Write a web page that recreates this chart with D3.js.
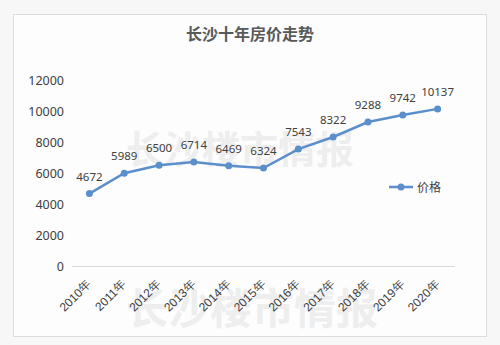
<!DOCTYPE html>
<html><head><meta charset="utf-8">
<script src="https://cdn.jsdelivr.net/npm/d3@7"></script>
<style>body{margin:0;background:#f7f7f7;}svg{display:block;font-family:"Noto Sans CJK SC","Noto Sans",sans-serif;}</style>
</head><body>
<script>
const title = "长沙十年房价走势";
const years = ["2010年","2011年","2012年","2013年","2014年","2015年","2016年","2017年","2018年","2019年","2020年"];
const prices = [4672,5989,6500,6714,6469,6324,7543,8322,9288,9742,10137];
const yTicks = [0,2000,4000,6000,8000,10000,12000];
const seriesName = "价格";
const watermark = "长沙楼市情报";

const W = 500, H = 345;
const svg = d3.select("body").append("svg").attr("width", W).attr("height", H);
svg.append("rect").attr("x",13.5).attr("y",14.5).attr("width",473).attr("height",322)
  .attr("fill","#fdfdfd").attr("stroke","#dcdcdc");

// faint watermarks (as in the reference image)
svg.append("text").attr("x",240).attr("y",163).attr("text-anchor","middle")
  .attr("font-size",38).attr("font-weight","bold").attr("fill","#eeeeee").text(watermark);
svg.append("text").attr("x",252).attr("y",324).attr("text-anchor","middle")
  .attr("font-size",42).attr("font-weight","bold").attr("fill","#eeeeee").text(watermark);

svg.append("text").attr("x",250).attr("y",40).attr("text-anchor","middle")
  .attr("font-size",16).attr("font-weight","bold").attr("fill","#595959").text(title);

const x = d3.scalePoint().domain(years).range([72,455]).padding(0.5);
const y = d3.scaleLinear().domain([0,12000]).range([266,80]);

// y axis labels
const ya = svg.append("g").attr("transform","translate(64,0)")
  .call(d3.axisLeft(y).tickValues(yTicks).tickFormat(d3.format("d")).tickSize(0).tickPadding(0));
ya.select(".domain").remove();
ya.selectAll("text").attr("font-size",12.5).attr("fill","#404040")
  .attr("font-family","'Noto Sans','Open Sans',sans-serif");

// baseline
svg.append("line").attr("x1",72).attr("x2",455).attr("y1",y(0)+0.5).attr("y2",y(0)+0.5)
  .attr("stroke","#d9d9d9").attr("stroke-width",1);

// x axis labels
const xa = svg.append("g").attr("transform",`translate(0,${y(0)})`)
  .call(d3.axisBottom(x).tickSize(0).tickPadding(0));
xa.select(".domain").remove();
xa.selectAll("text").attr("font-size",12).attr("fill","#404040")
  .attr("text-anchor","end").attr("dy",0)
  .attr("transform","translate(2,19) rotate(-45)");

const color = "#5b8fcb";
svg.append("path").datum(prices)
  .attr("d", d3.line().x((d,i)=>x(years[i])).y(d=>y(d)))
  .attr("fill","none").attr("stroke",color).attr("stroke-width",2.5);
svg.selectAll("circle.pt").data(prices).join("circle").attr("class","pt")
  .attr("cx",(d,i)=>x(years[i])).attr("cy",d=>y(d)).attr("r",3.5).attr("fill",color);
svg.selectAll("text.lbl").data(prices).join("text").attr("class","lbl")
  .attr("x",(d,i)=>x(years[i])).attr("y",d=>y(d)-13).attr("text-anchor","middle")
  .attr("font-size",11.5).attr("fill","#404040")
  .attr("font-family","'Noto Sans','Open Sans',sans-serif").text(d=>d);

// legend
svg.append("line").attr("x1",389).attr("x2",413).attr("y1",187).attr("y2",187)
  .attr("stroke",color).attr("stroke-width",2.5);
svg.append("circle").attr("cx",401).attr("cy",187).attr("r",3.5).attr("fill",color);
svg.append("text").attr("x",417).attr("y",191.5).attr("font-size",12).attr("fill","#404040").text(seriesName);
</script>
</body></html>
